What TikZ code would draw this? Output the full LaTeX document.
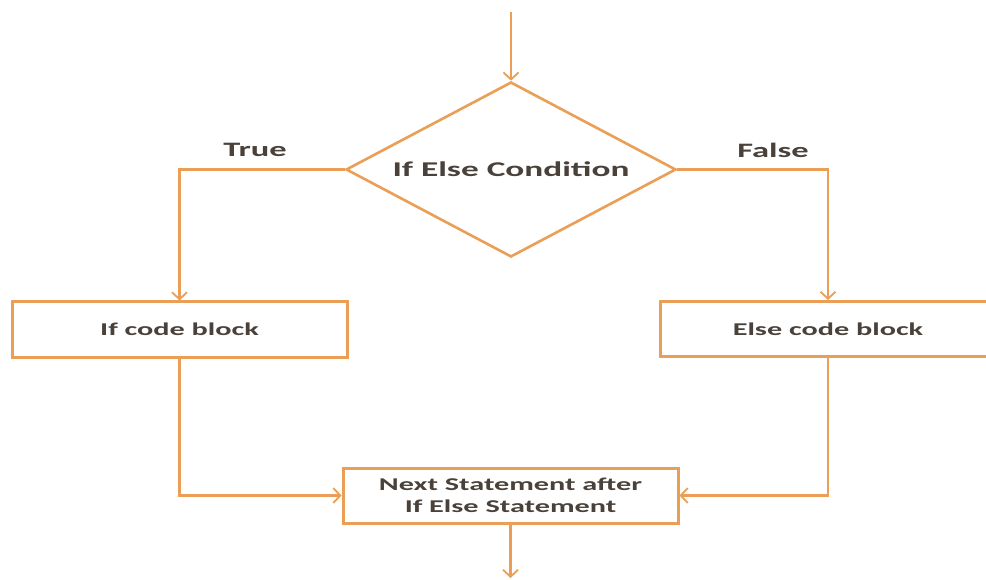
\documentclass[tikz,border=0pt]{standalone}
\usepackage{fontspec}
\usepackage{graphicx}
\setmainfont{Carlito}
\usetikzlibrary{shapes.geometric,arrows.meta}
\definecolor{flowline}{RGB}{234,158,86}
\definecolor{flowtext}{RGB}{74,66,58}
\newcommand{\stx}[1]{\scalebox{1.68}[1]{#1}}
\tikzset{
  conn/.style={draw=flowline, line width=2.4pt},
  arr/.style={conn, -{Straight Barb[length=7pt,width=15pt,line width=1.8pt]}},
  codebox/.style={draw=flowline, line width=3pt, fill=white, rectangle,
    minimum width=335pt, minimum height=55pt, inner sep=0pt,
    text=flowtext, font=\fontsize{18}{22}\selectfont\bfseries, align=center},
  decision/.style={draw=flowline, line width=2.6pt, diamond, aspect=1.9,
    minimum width=330pt, minimum height=175pt, inner sep=0pt,
    text=flowtext, font=\fontsize{21}{25}\selectfont\bfseries},
  lbl/.style={text=flowtext, font=\fontsize{20.5}{24}\selectfont\bfseries}
}
\begin{document}
\begin{tikzpicture}[x=1pt,y=-1pt]
\clip (0,0) rectangle (986,580);
\fill[white] (0,0) rectangle (986,580);
\coordinate (start) at (511,12);
\node[decision] (cond) at (511,169.5) {\stx{If Else Condition}};
\node[codebox] (ifb) at (179.5,329.5) {\stx{If code block}};
\node[codebox] (elseb) at (828,329) {\stx{Else code block}};
\node[codebox] (next) at (510.5,495.5) {\stx{Next Statement after}\\\stx{If Else Statement}};
\coordinate (end) at (510.5,578);
\node[lbl] (tl) at (255,150) {\stx{True}};
\node[lbl] (fl) at (773,150) {\stx{False}};
\draw[arr] (start) -- (cond.north);
\draw[arr] (cond.west) -| (ifb.north);
\draw[arr] (cond.east) -| (elseb.north);
\draw[arr] (ifb.south) |- (next.west);
\draw[arr] (elseb.south) |- (next.east);
\draw[arr] (next.south) -- (end);
\end{tikzpicture}
\end{document}
